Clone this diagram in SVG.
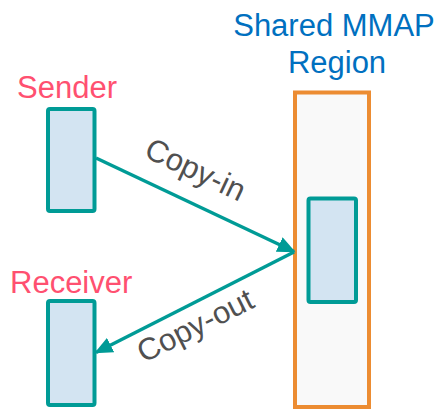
<svg xmlns="http://www.w3.org/2000/svg" width="444" height="409" viewBox="0 0 444 409">
  <defs>
    <style>
      .proc { fill: #D3E4F2; stroke: #009B96; stroke-width: 4; }
      .region { fill: #F9F9F9; stroke: #EC8C32; stroke-width: 4; }
      .link { fill: none; stroke: #009B96; stroke-width: 3.5; }
      .lbl { font-family: "Liberation Sans", Arial, sans-serif; font-size: 31px; }
      .actor { fill: #FF5070; }
      .title { fill: #0070C0; text-anchor: middle; }
      .edge-lbl { fill: #505050; text-anchor: middle; font-size: 31px; }
    </style>
    <marker id="arrow" viewBox="0 0 10 10" refX="9" refY="5" markerWidth="5.2" markerHeight="4.6" orient="auto" markerUnits="strokeWidth" preserveAspectRatio="none">
      <path d="M0,0 L10,5 L0,10 z" fill="#009B96"/>
    </marker>
  </defs>

  <!-- shared memory region with its buffer -->
  <g id="shared-region">
    <rect class="region" x="295" y="92.5" width="74" height="314.5"/>
    <text class="lbl title" x="334" y="36">Shared MMAP</text>
    <text class="lbl title" x="337" y="73">Region</text>
  </g>
  <g id="shared-buffer">
    <rect class="proc" x="308.5" y="198.5" width="47.5" height="103.5" rx="2"/>
  </g>

  <!-- sender process -->
  <g id="sender">
    <rect class="proc" x="48" y="109" width="46.5" height="102" rx="2"/>
    <text class="lbl actor" x="17" y="98">Sender</text>
  </g>

  <!-- receiver process -->
  <g id="receiver">
    <rect class="proc" x="48" y="301" width="46.5" height="104" rx="2"/>
    <text class="lbl actor" x="10" y="292.5">Receiver</text>
  </g>

  <!-- copy paths -->
  <g id="connectors">
    <line class="link" x1="96" y1="158" x2="294" y2="251.5" marker-end="url(#arrow)"/>
    <line class="link" x1="294" y1="252" x2="96" y2="352.5" marker-end="url(#arrow)"/>
    <text class="lbl edge-lbl" transform="translate(191 179) rotate(25.3)">Copy-in</text>
    <text class="lbl edge-lbl" transform="translate(200 335) rotate(-26.8)">Copy-out</text>
  </g>
</svg>
